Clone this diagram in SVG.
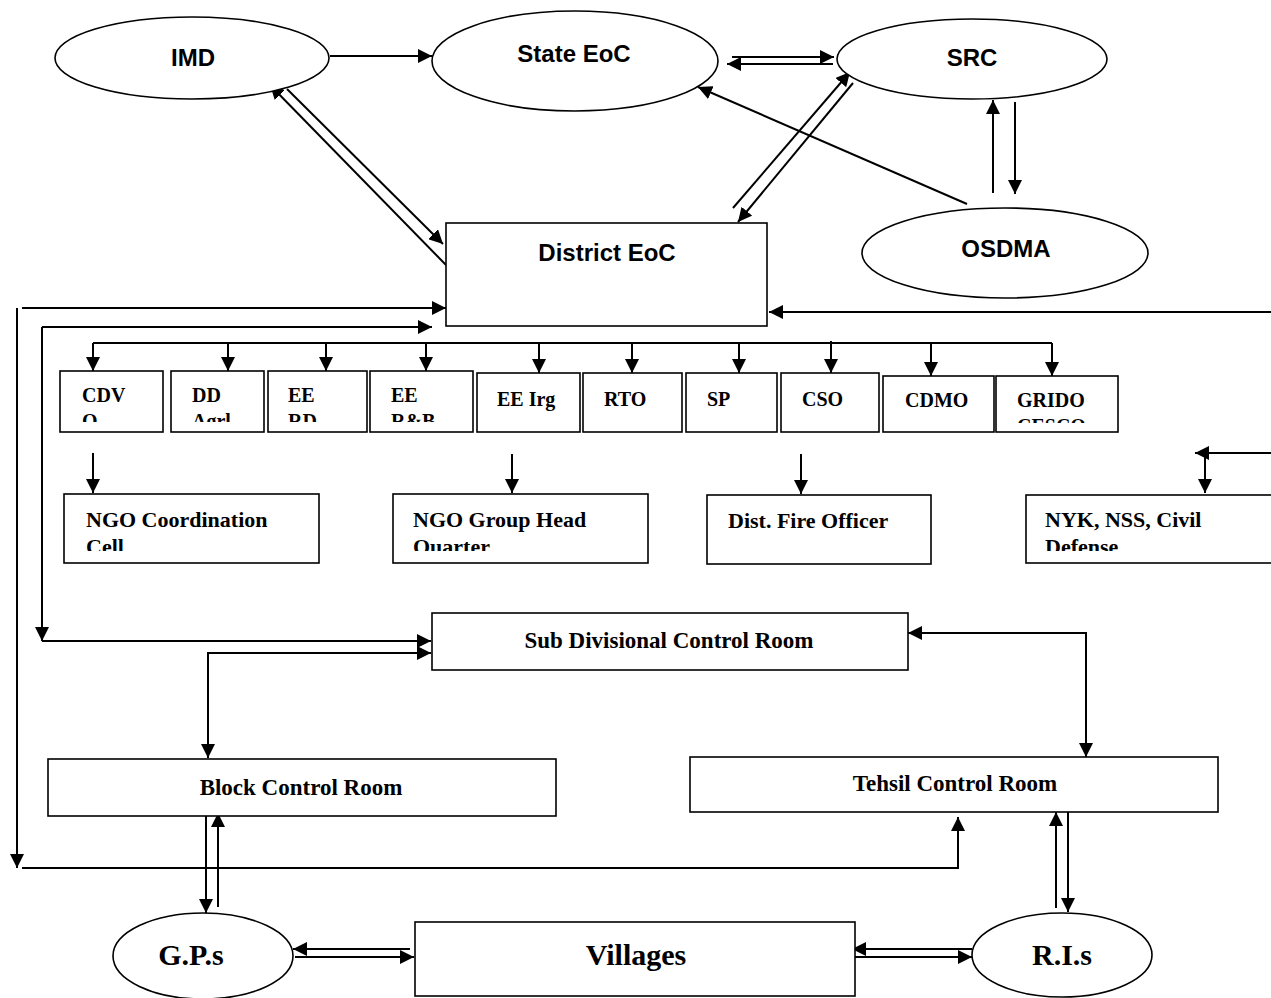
<svg xmlns="http://www.w3.org/2000/svg" width="1271" height="998" viewBox="0 0 1271 998">
<style>
.sh{fill:#fff;stroke:#000;stroke-width:1.6}
.ln{fill:none;stroke:#000;stroke-width:2}
.ar{marker-end:url(#ah)}
.both{marker-end:url(#ah);marker-start:url(#ahs)}
.gt{font-family:"Liberation Sans",Arial,sans-serif;font-weight:bold;font-size:24px;fill:#000;text-anchor:middle}
.bx{font-family:"Liberation Serif","Times New Roman",serif;font-weight:bold;font-size:20px;fill:#000}
.ng{font-family:"Liberation Serif","Times New Roman",serif;font-weight:bold;font-size:22px;fill:#000}
.cr{font-family:"Liberation Serif","Times New Roman",serif;font-weight:bold;font-size:23px;fill:#000;text-anchor:middle}
.bg{font-family:"Liberation Serif","Times New Roman",serif;font-weight:bold;font-size:30px;fill:#000;text-anchor:middle}
</style>
<defs>
<marker id="ah" markerUnits="userSpaceOnUse" markerWidth="15" markerHeight="14" refX="14" refY="7" orient="auto"><path d="M0,0 L14,7 L0,14 z" fill="#000"/></marker>
<marker id="ahs" markerUnits="userSpaceOnUse" markerWidth="15" markerHeight="14" refX="14" refY="7" orient="auto-start-reverse"><path d="M0,0 L14,7 L0,14 z" fill="#000"/></marker>
<clipPath id="c1"><rect x="0" y="360" width="1271" height="62"/></clipPath>
<clipPath id="c2"><rect x="0" y="360" width="1271" height="63"/></clipPath>
<clipPath id="c3"><rect x="0" y="490" width="1271" height="61"/></clipPath>
</defs>
<rect width="1271" height="998" fill="#fff"/>

<g id="connectors">
<path class="ln ar" d="M330,56 L432,56"/>
<path class="ln ar" d="M732,57 L834,57"/>
<path class="ln ar" d="M833,64 L727,64"/>
<path class="ln ar" d="M446,265 L270,85"/>
<path class="ln ar" d="M287,89 L443,244"/>
<path class="ln ar" d="M733,208 L850,72"/>
<path class="ln ar" d="M853,83 L738,222"/>
<path class="ln ar" d="M967,204 L698,87"/>
<path class="ln ar" d="M993,193 L993,100"/>
<path class="ln ar" d="M1015,102 L1015,194"/>
<path class="ln ar" d="M22,308 L446,308"/>
<path class="ln ar" d="M17,308 L17,868"/>
<path class="ln ar" d="M22,868 L958,868 L958,817"/>
<path class="ln ar" d="M42,327 L432,327"/>
<path class="ln ar" d="M42,327 L42,641"/>
<path class="ln ar" d="M42,641 L431,641"/>
<path class="ln both" d="M431,653 L208,653 L208,758"/>
<path class="ln both" d="M908,633 L1086,633 L1086,757"/>
<path class="ln ar" d="M206,809 L206,913"/>
<path class="ln ar" d="M218,907 L218,813"/>
<path class="ln ar" d="M1068,812 L1068,912"/>
<path class="ln ar" d="M1056,908 L1056,812"/>
<path class="ln ar" d="M410,949 L293,949"/>
<path class="ln ar" d="M295,957 L414,957"/>
<path class="ln ar" d="M972,949 L852,949"/>
<path class="ln ar" d="M855,957 L972,957"/>
<path class="ln ar" d="M1271,312 L769,312"/>
<path class="ln ar" d="M1271,453 L1195,453"/>
<path class="ln ar" d="M1205,453 L1205,493"/>
<path class="ln" d="M93,343 L1052,343"/>
<path class="ln ar" d="M93,343 L93,371"/>
<path class="ln ar" d="M228,343 L228,371"/>
<path class="ln ar" d="M326,343 L326,371"/>
<path class="ln ar" d="M426,343 L426,371"/>
<path class="ln ar" d="M539,343 L539,373"/>
<path class="ln ar" d="M632,343 L632,373"/>
<path class="ln ar" d="M739,343 L739,373"/>
<path class="ln ar" d="M831,341 L831,373"/>
<path class="ln ar" d="M931,343 L931,376"/>
<path class="ln ar" d="M1052,343 L1052,376"/>
<path class="ln ar" d="M93,453 L93,493"/>
<path class="ln ar" d="M512,454 L512,493"/>
<path class="ln ar" d="M801,454 L801,494"/>
</g>

<g id="imd"><ellipse class="sh" cx="192" cy="58" rx="137" ry="41"/><text class="gt" x="193" y="66">IMD</text></g>
<g id="state-eoc"><ellipse class="sh" cx="575" cy="61" rx="143" ry="50"/><text class="gt" x="574" y="62">State EoC</text></g>
<g id="src"><ellipse class="sh" cx="972" cy="59" rx="135" ry="40"/><text class="gt" x="972" y="66">SRC</text></g>
<g id="osdma"><ellipse class="sh" cx="1005" cy="253" rx="143" ry="45"/><text class="gt" x="1006" y="257">OSDMA</text></g>
<g id="district-eoc"><rect class="sh" x="446" y="223" width="321" height="103"/><text class="gt" x="607" y="261">District EoC</text></g>

<g id="cdvo"><rect class="sh" x="60" y="371" width="103" height="61"/><g clip-path="url(#c1)"><text class="bx" x="82" y="402">CDV</text><text class="bx" x="82" y="428">O</text></g></g>
<g id="dd-agrl"><rect class="sh" x="171" y="371" width="93" height="61"/><g clip-path="url(#c1)"><text class="bx" x="192" y="402">DD</text><text class="bx" x="192" y="428">Agrl</text></g></g>
<g id="ee-rd"><rect class="sh" x="268" y="371" width="99" height="61"/><g clip-path="url(#c1)"><text class="bx" x="288" y="402">EE</text><text class="bx" x="288" y="428">RD</text></g></g>
<g id="ee-rb"><rect class="sh" x="370" y="371" width="103" height="61"/><g clip-path="url(#c1)"><text class="bx" x="391" y="402">EE</text><text class="bx" x="391" y="428">R&amp;B</text></g></g>
<g id="ee-irg"><rect class="sh" x="477" y="373" width="103" height="59"/><text class="bx" x="497" y="406">EE Irg</text></g>
<g id="rto"><rect class="sh" x="583" y="373" width="99" height="59"/><text class="bx" x="604" y="406">RTO</text></g>
<g id="sp"><rect class="sh" x="686" y="373" width="91" height="59"/><text class="bx" x="707" y="406">SP</text></g>
<g id="cso"><rect class="sh" x="781" y="373" width="98" height="59"/><text class="bx" x="802" y="406">CSO</text></g>
<g id="cdmo"><rect class="sh" x="883" y="376" width="111" height="56"/><text class="bx" x="905" y="407">CDMO</text></g>
<g id="grido"><rect class="sh" x="996" y="376" width="122" height="56"/><g clip-path="url(#c2)"><text class="bx" x="1017" y="407">GRIDO</text><text class="bx" x="1017" y="433">CESCO</text></g></g>

<g id="ngo-cell"><rect class="sh" x="64" y="494" width="255" height="69"/><g clip-path="url(#c3)"><text class="ng" x="86" y="527">NGO Coordination</text><text class="ng" x="86" y="554">Cell</text></g></g>
<g id="ngo-hq"><rect class="sh" x="393" y="494" width="255" height="69"/><g clip-path="url(#c3)"><text class="ng" x="413" y="527">NGO Group Head</text><text class="ng" x="413" y="554">Quarter</text></g></g>
<g id="fire-officer"><rect class="sh" x="707" y="495" width="224" height="69"/><text class="ng" x="728" y="528">Dist. Fire Officer</text></g>
<g id="nyk"><rect class="sh" x="1026" y="495" width="260" height="68"/><g clip-path="url(#c3)"><text class="ng" x="1045" y="527">NYK, NSS, Civil</text><text class="ng" x="1045" y="554">Defense</text></g></g>

<g id="sub-div"><rect class="sh" x="432" y="613" width="476" height="57"/><text class="cr" x="669" y="648">Sub Divisional Control Room</text></g>
<g id="block"><rect class="sh" x="48" y="759" width="508" height="57"/><text class="cr" x="301" y="795">Block Control Room</text></g>
<g id="tehsil"><rect class="sh" x="690" y="757" width="528" height="55"/><text class="cr" x="955" y="791">Tehsil Control Room</text></g>

<g id="gps"><ellipse class="sh" cx="203" cy="956" rx="90" ry="43"/><text class="bg" x="191" y="965">G.P.s</text></g>
<g id="villages"><rect class="sh" x="415" y="922" width="440" height="74"/><text class="bg" x="636" y="965">Villages</text></g>
<g id="ris"><ellipse class="sh" cx="1062" cy="955" rx="90" ry="42"/><text class="bg" x="1062" y="965">R.I.s</text></g>
</svg>
